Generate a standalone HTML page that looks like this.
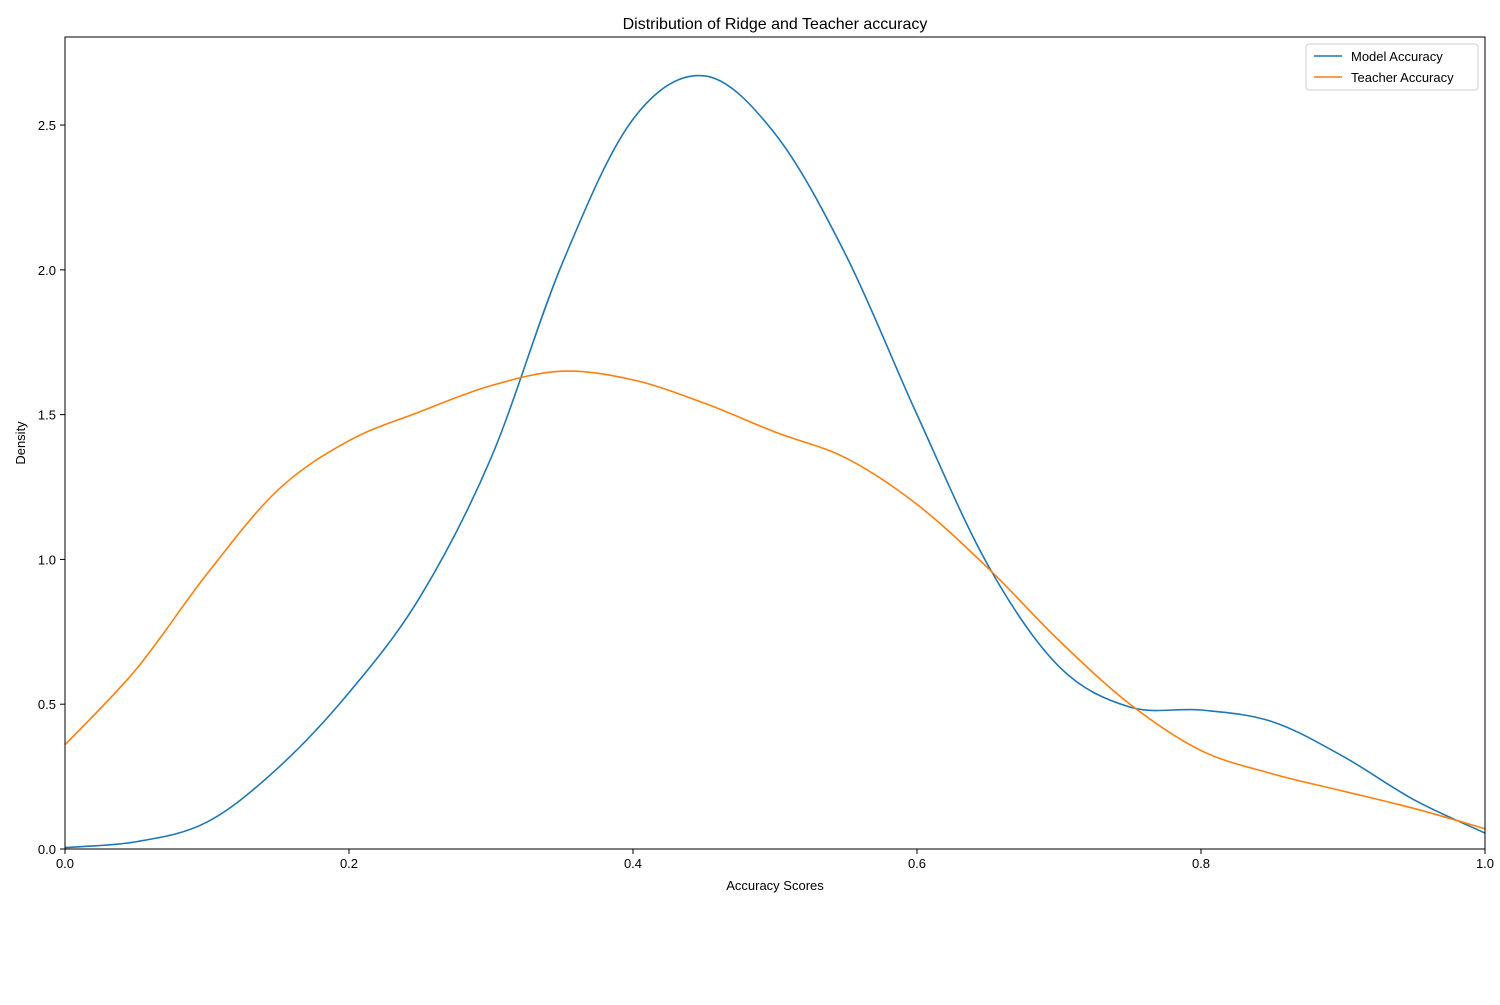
<!DOCTYPE html>
<html><head><meta charset="utf-8"><style>
body{margin:0;background:#fff;}
svg text{font-family:"Liberation Sans","DejaVu Sans",sans-serif;}
</style></head><body>
<svg id="chart" width="1500" height="1000">
<rect width="1500" height="1000" fill="#fff"/>
<text x="775" y="29" text-anchor="middle" font-size="16">Distribution of Ridge and Teacher accuracy</text>
<g id="plot"></g>
<text x="775" y="890" text-anchor="middle" font-size="13">Accuracy Scores</text>
<text transform="translate(25,443) rotate(-90)" text-anchor="middle" font-size="13">Density</text>
<g>
<rect x="1306" y="44" width="172" height="46" fill="#fff" stroke="#ccc" rx="3"/>
<line x1="1314" y1="56" x2="1342" y2="56" stroke="#1f77b4" stroke-width="1.6"/>
<text x="1351" y="61" font-size="13">Model Accuracy</text>
<line x1="1314" y1="77" x2="1342" y2="77" stroke="#ff7f0e" stroke-width="1.6"/>
<text x="1351" y="82" font-size="13">Teacher Accuracy</text>
</g>
</svg>
<script>
const xs=[0,0.05,0.1,0.15,0.2,0.25,0.3,0.35,0.4,0.45,0.5,0.55,0.6,0.65,0.7,0.75,0.8,0.85,0.9,0.95,1.0];
const modelVals=[0.005,0.025,0.093,0.28,0.54,0.87,1.35,2.02,2.52,2.67,2.47,2.05,1.5,0.98,0.63,0.49,0.48,0.44,0.32,0.17,0.055];
const teacherVals=[0.36,0.62,0.95,1.24,1.41,1.51,1.6,1.65,1.62,1.54,1.44,1.35,1.19,0.97,0.72,0.5,0.34,0.26,0.2,0.14,0.07];
const xTicks=[0,0.2,0.4,0.6,0.8,1.0];
const yTicks=[0,0.5,1.0,1.5,2.0,2.5];
const L=65,R=1485,T=37,B=849,YMAX=2.804;
const sx=v=>L+v*(R-L);
const sy=v=>B-v/YMAX*(B-T);
const NS="http://www.w3.org/2000/svg";
const g=document.getElementById('plot');
function mk(t,a){const e=document.createElementNS(NS,t);for(const k in a)e.setAttribute(k,a[k]);g.appendChild(e);return e;}
function path(vals){
  const p=xs.map((x,i)=>[sx(x),sy(vals[i])]);
  let d=`M${p[0][0]},${p[0][1]}`;
  for(let i=0;i<p.length-1;i++){
    const p0=p[Math.max(0,i-1)],p1=p[i],p2=p[i+1],p3=p[Math.min(p.length-1,i+2)];
    const c1=[p1[0]+(p2[0]-p0[0])/6,p1[1]+(p2[1]-p0[1])/6];
    const c2=[p2[0]-(p3[0]-p1[0])/6,p2[1]-(p3[1]-p1[1])/6];
    d+=`C${c1[0]},${c1[1]} ${c2[0]},${c2[1]} ${p2[0]},${p2[1]}`;
  }
  return d;
}
xTicks.forEach(t=>{
  const l=mk('line',{x1:sx(t),x2:sx(t),y1:B,y2:B+5,stroke:'#000'});
  
  
  const tx=mk('text',{x:sx(t),y:B+19,'text-anchor':'middle','font-size':13});
  tx.textContent=t.toFixed(1);
  
  
});
yTicks.forEach(t=>{
  const l=mk('line',{x1:L-5,x2:L,y1:sy(t),y2:sy(t),stroke:'#000'});
  
  
  const tx=mk('text',{x:L-9,y:sy(t)+5,'text-anchor':'end','font-size':13});
  tx.textContent=t.toFixed(1);
  
  
});
const m=mk('path',{d:path(modelVals),fill:'none',stroke:'#1f77b4','stroke-width':1.6});


const te=mk('path',{d:path(teacherVals),fill:'none',stroke:'#ff7f0e','stroke-width':1.6});


const fr=mk('rect',{x:L,y:T,width:R-L,height:B-T,fill:'none',stroke:'#000'});


</script>
</body></html>
